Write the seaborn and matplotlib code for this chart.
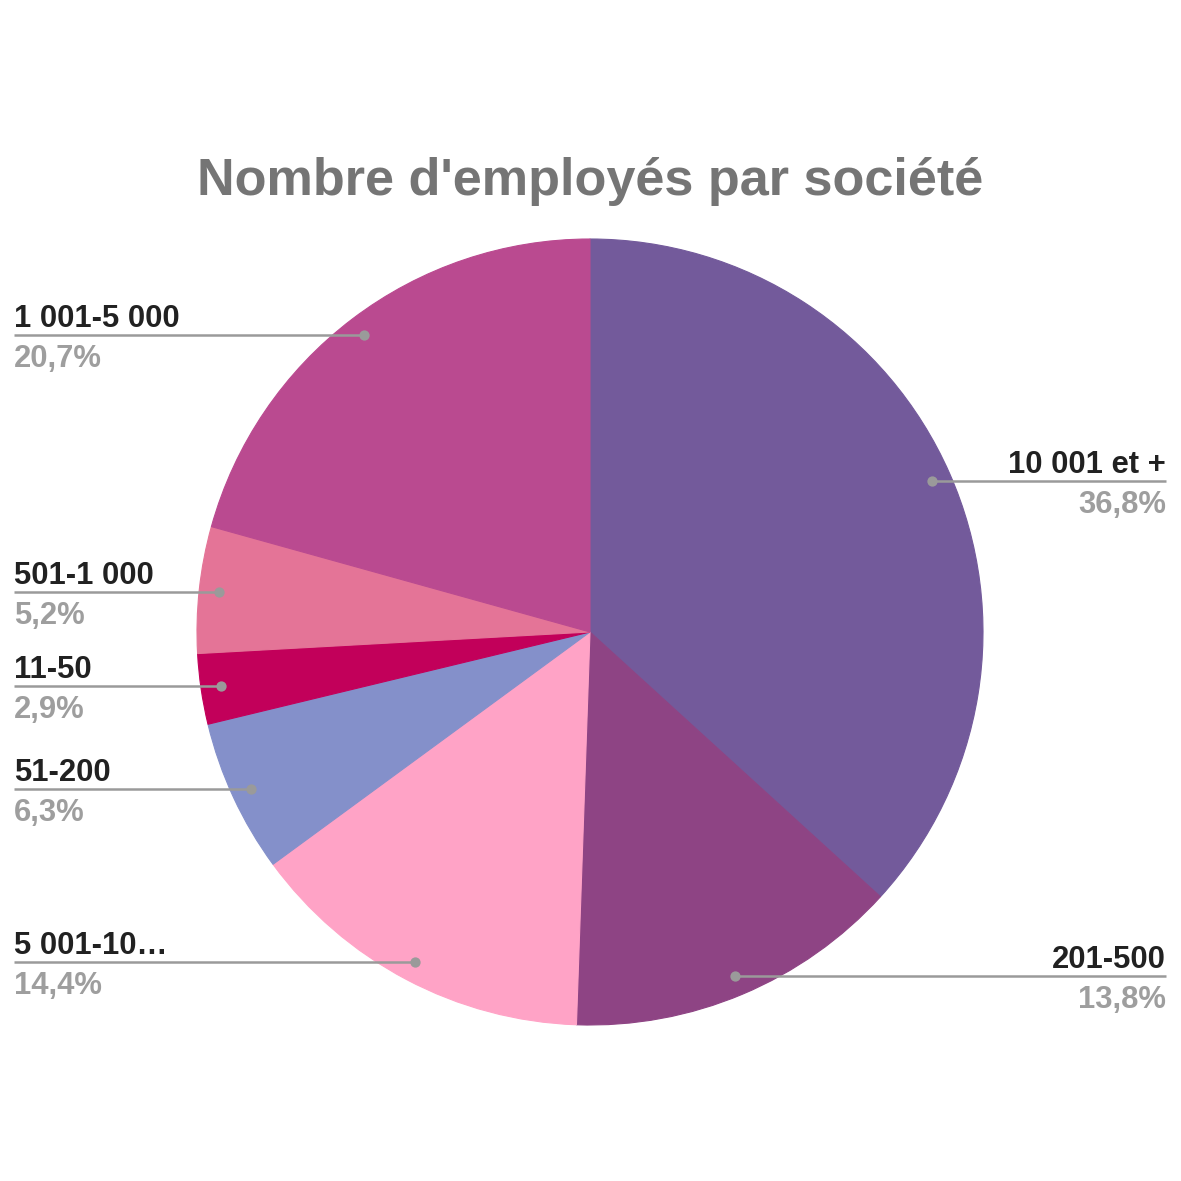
import numpy as np
import matplotlib
matplotlib.use("Agg")
import matplotlib.pyplot as plt
import seaborn as sns

# Data (clockwise from 12 o'clock)
categories = ["10 001 et +", "201-500", "5 001-10…", "51-200", "11-50", "501-1 000", "1 001-5 000"]
shares = [36.8, 13.8, 14.4, 6.3, 2.9, 5.2, 20.7]
pct_labels = ["36,8%", "13,8%", "14,4%", "6,3%", "2,9%", "5,2%", "20,7%"]
slice_colors = ["#735A9B", "#8E4484", "#FFA3C6", "#8490CA", "#C2005A", "#E47497", "#BA4A90"]

sns.set_theme(style="white")
plt.rcParams["font.family"] = ["Liberation Sans", "DejaVu Sans"]

W = H = 1181
fig = plt.figure(figsize=(W / 100, H / 100), dpi=100)
ax = fig.add_axes([0, 0, 1, 1])

cx, cy, r = 590, H - 632, 393
wedges, _ = ax.pie(
    shares,
    colors=sns.color_palette(slice_colors),
    startangle=90,
    counterclock=False,
    center=(cx, cy),
    radius=r,
)
# hide the hairline seams between slices
for w in wedges:
    w.set_edgecolor(w.get_facecolor())
    w.set_linewidth(0.8)

ax.set_xlim(0, W)
ax.set_ylim(0, H)
ax.set_aspect("equal")
ax.axis("off")

# Title
ax.text(590, H - 195, "Nombre d'employés par société", ha="center", va="baseline",
        fontsize=37.6, fontweight="bold", color="#757575")

# Leader lines + labels
line_col = "#9A9A9A"
for w, cat, pct in zip(wedges, categories, pct_labels):
    mid = np.deg2rad((w.theta1 + w.theta2) / 2)
    dx, dy = cx + 0.95 * r * np.cos(mid), cy + 0.95 * r * np.sin(mid)
    if dx < cx:
        x_end, ha = 14, "left"
    else:
        x_end, ha = 1166, "right"
    ax.plot([x_end, dx], [dy, dy], color=line_col, lw=1.8, solid_capstyle="butt", zorder=3)
    ax.scatter([dx], [dy], s=55, color=line_col, zorder=4, linewidths=0)
    ax.text(x_end, dy + 8, cat, ha=ha, va="baseline", fontsize=22.3,
            fontweight="bold", color="#212121")
    ax.text(x_end, dy - 9, pct, ha=ha, va="top", fontsize=22.3,
            fontweight="bold", color="#9E9E9E")

fig.savefig("out.png", dpi=100, facecolor="white")
